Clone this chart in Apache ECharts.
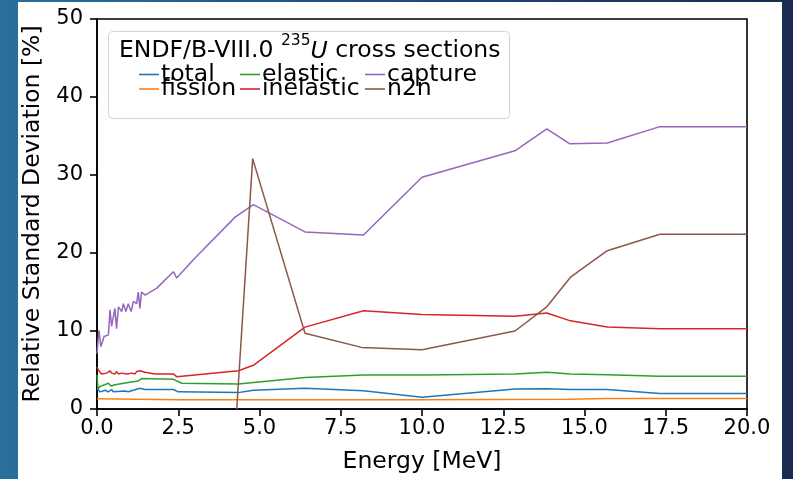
<!DOCTYPE html>
<html>
<head>
<meta charset="utf-8">
<script src="https://cdn.jsdelivr.net/npm/echarts@6/dist/echarts.min.js"></script>
<style>
  html, body { margin: 0; padding: 0; }
  #chart { width: 793px; height: 479px; }
</style>
</head>
<body>
<div id="chart"></div>
<script>
'use strict';

// energies [MeV] and relative standard deviations [%]
var totalE = [0, 0.10, 0.25, 0.35, 0.45, 0.50, 0.86, 0.92, 0.96, 1.32, 1.37, 1.48, 2.35, 2.5, 4.35, 4.81, 6.4, 8.2, 10.0, 12.86, 13.84, 14.57, 15.7, 17.32, 20];
var totalV = [2.6, 2.2, 2.4, 2.2, 2.5, 2.2, 2.3, 2.5, 2.2, 2.65, 2.8, 2.5, 2.5, 2.2, 2.1, 2.4, 2.65, 2.35, 1.5, 2.55, 2.6, 2.5, 2.5, 2.0, 2.0];

var fissionE = [0, 2.5, 10, 14.5, 15.7, 20];
var fissionV = [1.3, 1.2, 1.2, 1.25, 1.35, 1.35];

var elasticE = [0, 0.03, 0.10, 0.35, 0.40, 0.43, 0.55, 0.96, 1.27, 1.37, 2.35, 2.61, 4.35, 6.4, 8.2, 10.0, 12.86, 13.84, 14.57, 15.7, 17.32, 20];
var elasticV = [4.4, 2.6, 2.9, 3.3, 3.5, 2.95, 3.1, 3.4, 3.6, 3.9, 3.8, 3.3, 3.2, 4.05, 4.35, 4.35, 4.5, 4.7, 4.5, 4.4, 4.2, 4.2];

var inelasticE = [0, 0.04, 0.14, 0.30, 0.40, 0.45, 0.50, 0.55, 0.60, 0.66, 0.76, 0.92, 1.07, 1.17, 1.22, 1.32, 1.37, 1.48, 1.78, 2.35, 2.45, 4.35, 4.81, 6.4, 8.2, 10.0, 12.86, 13.84, 14.57, 15.7, 17.32, 20];
var inelasticV = [5.4, 5.0, 4.5, 4.6, 4.9, 4.6, 4.8, 4.5, 4.8, 4.5, 4.6, 4.5, 4.6, 4.5, 4.8, 4.9, 4.7, 4.7, 4.5, 4.5, 4.15, 4.9, 5.6, 10.5, 12.6, 12.1, 11.9, 12.3, 11.3, 10.5, 10.3, 10.3];

var captureE = [0, 0.06, 0.12, 0.22, 0.35, 0.40, 0.45, 0.55, 0.60, 0.66, 0.76, 0.81, 0.89, 0.96, 1.05, 1.12, 1.22, 1.27, 1.32, 1.37, 1.48, 1.84, 2.35, 2.45, 3.0, 4.25, 4.81, 6.4, 8.2, 10.0, 12.86, 13.84, 14.55, 15.7, 17.32, 20];
var captureV = [7.1, 10.1, 8.0, 9.3, 9.5, 12.7, 10.6, 12.9, 10.3, 13.1, 12.5, 13.5, 12.5, 13.5, 12.5, 13.8, 13.5, 15.0, 12.9, 15.0, 14.6, 15.5, 17.6, 16.8, 19.3, 24.6, 26.2, 22.7, 22.3, 29.7, 33.1, 35.9, 34.0, 34.1, 36.2, 36.2];

var n2nE = [4.3, 4.79, 6.4, 8.14, 10.0, 12.86, 13.84, 14.57, 15.7, 17.32, 20];
var n2nV = [0, 32.1, 9.7, 7.9, 7.6, 10.0, 13.1, 16.9, 20.3, 22.4, 22.4];

var seriesNames = ['total', 'fission', 'elastic', 'inelastic', 'capture', 'n2n'];
var seriesColors = ['#1f77b4', '#ff7f0e', '#2ca02c', '#d62728', '#9467bd', '#8c564b'];
var seriesData = [
    [totalE, totalV],
    [fissionE, fissionV],
    [elasticE, elasticV],
    [inelasticE, inelasticV],
    [captureE, captureV],
    [n2nE, n2nV]
];

var FONT = 'DejaVu Sans';
var TICK_SIZE = 21;
var LABEL_SIZE = 23.5;

// legend slots: matplotlib fills columns first (3 columns, 2 rows)
var legendCols = [139, 240, 365];
var legendRows = [62.5, 77];

function pairs(xs, ys) {
    return xs.map(function (x, i) { return [x, ys[i]]; });
}

var chart = echarts.init(document.getElementById('chart'));

var series = seriesNames.map(function (name, i) {
    return {
        name: name,
        type: 'line',
        data: pairs(seriesData[i][0], seriesData[i][1]),
        showSymbol: false,
        symbol: 'none',
        silent: true,
        z: 3 + i,
        lineStyle: { color: seriesColors[i], width: 1.5 },
        itemStyle: { color: seriesColors[i] }
    };
});

var legends = seriesNames.map(function (name, i) {
    return {
        data: [name],
        left: legendCols[Math.floor(i / 2)],
        top: legendRows[i % 2],
        padding: 0,
        z: 60,
        icon: 'rect',
        itemWidth: 20,
        itemHeight: 1.6,
        selectedMode: false,
        textStyle: { fontFamily: FONT, fontSize: LABEL_SIZE, color: '#000', padding: [0, 0, 0, -3] }
    };
});

var option = {
    animation: false,
    backgroundColor: {
        type: 'linear', x: 0, y: 0, x2: 1, y2: 0,
        colorStops: [
            { offset: 0, color: '#2b6f9b' },
            { offset: 0.5, color: '#1f4a7c' },
            { offset: 1, color: '#1b2a50' }
        ]
    },
    graphic: [
        {
            type: 'rect', z: -10, silent: true,
            shape: { x: 18, y: 2, width: 764, height: 477 },
            style: { fill: '#ffffff' }
        },
        {
            type: 'rect', z: 50, silent: true,
            shape: { x: 108.5, y: 31.5, width: 401, height: 87, r: 4 },
            style: { fill: 'rgba(255,255,255,0.8)', stroke: '#d4d4d4', lineWidth: 1 }
        },
        {
            type: 'text', z: 51, silent: true,
            left: 119, top: 33,
            style: {
                text: '{a|ENDF/B-VIII.0 }{sup|235}{it|U}{a| cross sections}',
                fill: '#000',
                rich: {
                    a: { fontFamily: FONT, fontSize: LABEL_SIZE, lineHeight: 30, verticalAlign: 'bottom' },
                    sup: { fontFamily: FONT, fontSize: 15.5, lineHeight: 30, verticalAlign: 'top' },
                    it: { fontFamily: FONT, fontSize: LABEL_SIZE, fontStyle: 'italic', lineHeight: 30, verticalAlign: 'bottom' }
                }
            }
        }
    ],
    legend: legends,
    grid: {
        left: 97, right: 46, top: 19, bottom: 70,
        show: true, borderColor: '#000', borderWidth: 1.6, backgroundColor: 'transparent'
    },
    xAxis: {
        type: 'value', min: 0, max: 20, interval: 2.5,
        name: 'Energy [MeV]', nameLocation: 'middle', nameGap: 41,
        nameTextStyle: { fontFamily: FONT, fontSize: LABEL_SIZE, color: '#000' },
        axisLine: { show: true, lineStyle: { color: '#000', width: 1.6 } },
        axisTick: { show: true, inside: false, length: 7, lineStyle: { color: '#000', width: 1.6 } },
        axisLabel: {
            fontFamily: FONT, fontSize: TICK_SIZE, color: '#000', margin: 9,
            formatter: function (v) { return v.toFixed(1); }
        },
        splitLine: { show: false }
    },
    yAxis: {
        type: 'value', min: 0, max: 50, interval: 10,
        name: 'Relative Standard Deviation [%]', nameLocation: 'middle', nameGap: 47,
        nameTextStyle: { fontFamily: FONT, fontSize: LABEL_SIZE, color: '#000' },
        axisLine: { show: true, lineStyle: { color: '#000', width: 1.6 } },
        axisTick: { show: true, inside: false, length: 7, lineStyle: { color: '#000', width: 1.6 } },
        axisLabel: { fontFamily: FONT, fontSize: TICK_SIZE, color: '#000', margin: 14 },
        splitLine: { show: false }
    },
    series: series
};

chart.setOption(option);
</script>
</body>
</html>
